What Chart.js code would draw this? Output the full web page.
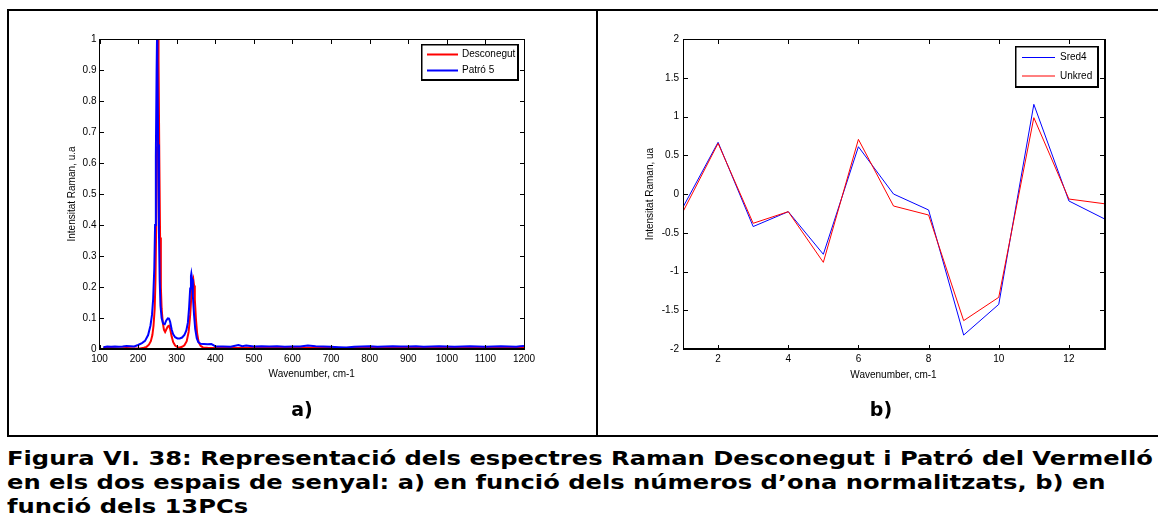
<!DOCTYPE html>
<html>
<head>
<meta charset="utf-8">
<script src="https://cdn.jsdelivr.net/npm/chart.js@4.4.1/dist/chart.umd.min.js"></script>
<style>
  html, body { margin: 0; padding: 0; background: #fff; }
  body { width: 1158px; height: 519px; position: relative; overflow: hidden; }
  .rule { position: absolute; background: #000; }
  canvas { position: absolute; }
  .tag { position: absolute; font: bold 19px "DejaVu Sans", Verdana, sans-serif; line-height: 1;
         transform: translate(-50%, -50%); color: #000; }
  #caption { position: absolute; left: 7px; top: 446px; font: bold 19px "DejaVu Sans", Verdana, sans-serif;
             line-height: 24px; color: #000; white-space: nowrap; }
  #caption .ln { display: block; transform-origin: 0 0; }
</style>
</head>
<body>
<!-- figure frame -->
<div class="rule" style="left:7px;top:9px;width:1151px;height:2px"></div>
<div class="rule" style="left:7px;top:9px;width:2px;height:428px"></div>
<div class="rule" style="left:596px;top:9px;width:2px;height:428px"></div>
<div class="rule" style="left:7px;top:435px;width:1151px;height:2px"></div>

<canvas id="spectra" width="587" height="424" style="left:9px;top:11px"></canvas>
<canvas id="pcs" width="560" height="424" style="left:598px;top:11px"></canvas>

<div class="tag" style="left:302px;top:409px">a)</div>
<div class="tag" style="left:881px;top:409px">b)</div>

<div id="caption"><span class="ln">Figura VI. 38: Representació dels espectres Raman Desconegut i Patró del Vermelló</span><span class="ln">en els dos espais de senyal: a) en funció dels números d’ona normalitzats, b) en</span><span class="ln">funció dels 13PCs</span></div>

<script>
// ---- Panel a): normalised Raman spectra ----
const desconegutWavenumbers = [
  110, 130, 150, 170, 190, 205, 215, 222, 228, 233, 237, 240, 243, 245, 247, 249, 251, 252, 253, 255,
  257, 259, 261, 264, 267, 270, 273, 277, 280, 283, 287, 291, 296, 302, 308, 314, 320, 326, 331, 335,
  338, 341, 343, 345, 347, 350, 353, 357, 362, 368, 380, 400, 430, 460, 490, 520, 550, 580, 610, 640,
  670, 700, 730, 760, 790, 820, 850, 880, 910, 940, 970, 1000, 1030, 1060, 1090, 1120, 1150, 1175, 1190, 1200
];
const desconegutIntensity = [
  0.003, 0.003, 0.002, 0.003, 0.002, 0.002, 0.004, 0.007, 0.014, 0.025, 0.045, 0.075, 0.13, 0.22, 0.40, 0.65, 0.92, 1.00, 0.93, 0.62,
  0.36, 0.20, 0.13, 0.085, 0.062, 0.055, 0.063, 0.073, 0.075, 0.065, 0.040, 0.022, 0.011, 0.006, 0.005, 0.007, 0.012, 0.025, 0.055, 0.11,
  0.17, 0.215, 0.225, 0.205, 0.16, 0.095, 0.050, 0.022, 0.010, 0.005, 0.004, 0.003, 0.004, 0.003, 0.004, 0.003, 0.004, 0.003, 0.004, 0.004,
  0.003, 0.004, 0.003, 0.004, 0.003, 0.004, 0.005, 0.004, 0.003, 0.004, 0.004, 0.003, 0.004, 0.004, 0.003, 0.004, 0.004, 0.005, 0.006, 0.004
];

const patroWavenumbers = [
  110, 120, 130, 140, 150, 160, 170, 180, 190, 200, 210, 218, 226, 232, 236, 239, 242, 244, 246, 248,
  249, 250, 252, 254, 256, 258, 261, 265, 269, 273, 277, 280, 283, 287, 291, 296, 302, 308, 314, 320,
  325, 329, 332, 335, 337, 338, 340, 342, 345, 348, 352, 356, 362, 370, 380, 390, 396, 400, 420, 440,
  460, 470, 480, 500, 520, 540, 560, 580, 600, 620, 640, 660, 680, 700, 720, 740, 760, 780, 800, 820,
  840, 860, 880, 900, 920, 940, 960, 980, 1000, 1020, 1040, 1060, 1080, 1100, 1120, 1140, 1160, 1180, 1190, 1200
];
const patroIntensity = [
  0.006, 0.008, 0.007, 0.008, 0.007, 0.008, 0.010, 0.009, 0.008, 0.013, 0.019, 0.026, 0.045, 0.075, 0.11, 0.16, 0.26, 0.40, 0.62, 0.90,
  1.00, 0.93, 0.66, 0.38, 0.22, 0.14, 0.10, 0.082, 0.080, 0.092, 0.099, 0.098, 0.088, 0.063, 0.047, 0.038, 0.034, 0.034, 0.037, 0.045,
  0.060, 0.085, 0.13, 0.195, 0.235, 0.243, 0.225, 0.17, 0.11, 0.065, 0.035, 0.022, 0.017, 0.016, 0.015, 0.016, 0.012, 0.008, 0.008, 0.007,
  0.013, 0.009, 0.011, 0.008, 0.009, 0.008, 0.009, 0.007, 0.008, 0.008, 0.011, 0.009, 0.008, 0.007, 0.006, 0.005, 0.007, 0.008, 0.009, 0.007,
  0.008, 0.009, 0.008, 0.008, 0.009, 0.007, 0.008, 0.009, 0.008, 0.007, 0.008, 0.009, 0.008, 0.007, 0.008, 0.009, 0.008, 0.007, 0.009, 0.010
];

const spectraXTicks = [100, 200, 300, 400, 500, 600, 700, 800, 900, 1000, 1100, 1200];
const spectraYTicks = [0, 0.1, 0.2, 0.3, 0.4, 0.5, 0.6, 0.7, 0.8, 0.9, 1];

// ---- Panel b): scores on the 13 principal components ----
const pcIndex = [1, 2, 3, 4, 5, 6, 7, 8, 9, 10, 11, 12, 13];
const sred4  = [-0.17, 0.667, -0.42, -0.228, -0.778, 0.61, 0.0, -0.206, -1.82, -1.424, 1.157, -0.09, -0.318];
const unkred = [-0.228, 0.654, -0.378, -0.228, -0.882, 0.705, -0.155, -0.271, -1.634, -1.333, 0.985, -0.065, -0.125];

const pcsXTicks = [2, 4, 6, 8, 10, 12];
const pcsYTicks = [-2, -1.5, -1, -0.5, 0, 0.5, 1, 1.5, 2];

const AXIS_FONT = '"Liberation Sans", Arial, Helvetica, sans-serif';

function fixedTicks(list) {
  return function (scale) { scale.ticks = list.map(v => ({ value: v })); };
}
function pairs(xs, ys) { return xs.map((x, i) => ({ x: x, y: ys[i] })); }

// Box, inward ticks, axis titles and in-axes legend, drawn the way MATLAB frames its axes
const matlabFrame = {
  id: 'matlabFrame',
  afterDraw(chart, args, opts) {
    const ctx = chart.ctx, a = chart.chartArea;
    const xs = chart.scales.x, ys = chart.scales.y;
    const L = Math.floor(a.left), R = Math.floor(a.right), T = Math.floor(a.top), B = Math.floor(a.bottom);
    ctx.save();
    ctx.fillStyle = '#000';
    ctx.fillRect(L, T, R - L + 1, 1);
    ctx.fillRect(L, T, 1, B - T + 1);
    ctx.fillRect(L, B - 1, R - L + opts.rightWidth, 2);
    ctx.fillRect(R, T, opts.rightWidth, B - T + 1);
    opts.xTicks.forEach(v => {
      const px = Math.round(xs.getPixelForValue(v));
      ctx.fillRect(px, B - 4, 1, 4);
      ctx.fillRect(px, T + 1, 1, 4);
    });
    opts.yTicks.forEach(v => {
      const py = Math.round(ys.getPixelForValue(v));
      ctx.fillRect(L + 1, py, 4, 1);
      ctx.fillRect(R - 4, py, 4, 1);
    });

    ctx.font = '10px ' + AXIS_FONT;
    ctx.textAlign = 'center';
    ctx.textBaseline = 'middle';
    ctx.fillText(opts.xTitle, (a.left + a.right) / 2, a.bottom + opts.xTitleGap);
    ctx.save();
    ctx.translate(opts.yTitleX, (a.top + a.bottom) / 2);
    ctx.rotate(-Math.PI / 2);
    ctx.fillText(opts.yTitle, 0, 0);
    ctx.restore();

    const lg = opts.legend;
    const bx = Math.round(a.right - lg.inset - lg.width), by = Math.round(a.top + lg.top);
    ctx.fillStyle = '#fff';
    ctx.fillRect(bx, by, lg.width, lg.height);
    ctx.fillStyle = '#000';
    ctx.fillRect(bx, by, lg.width, 1.5);
    ctx.fillRect(bx, by, 1.5, lg.height);
    ctx.fillRect(bx, by + lg.height - 2, lg.width, 2);
    ctx.fillRect(bx + lg.width - 2, by, 2, lg.height);
    ctx.textAlign = 'left';
    lg.order.forEach((di, i) => {
      const ds = chart.data.datasets[di];
      const ry = by + lg.rows[i];
      ctx.strokeStyle = ds.borderColor;
      ctx.lineWidth = ds.borderWidth;
      ctx.beginPath();
      ctx.moveTo(bx + lg.lineFrom, ry);
      ctx.lineTo(bx + lg.lineTo, ry);
      ctx.stroke();
      ctx.fillStyle = '#000';
      ctx.fillText(ds.label, bx + lg.textX, ry);
    });
    ctx.restore();
  }
};

function axisScale(min, max, list, fit, pad) {
  return {
    type: 'linear', min: min, max: max,
    afterBuildTicks: fixedTicks(list),
    afterFit: fit,
    grid: { display: false, drawTicks: false },
    border: { display: false },
    ticks: {
      color: '#000', autoSkip: false, maxRotation: 0, padding: pad,
      font: { family: AXIS_FONT, size: 10 },
      callback: v => String(v)
    }
  };
}

new Chart(document.getElementById('spectra'), {
  type: 'line',
  data: {
    datasets: [
      { label: 'Desconegut', data: pairs(desconegutWavenumbers, desconegutIntensity),
        borderColor: '#ff0000', borderWidth: 2, order: 1 },
      { label: 'Patró 5', data: pairs(patroWavenumbers, patroIntensity),
        borderColor: '#0000ff', borderWidth: 2, order: 0 }
    ]
  },
  options: {
    responsive: false, animation: false, events: [],
    parsing: false,
    elements: { point: { radius: 0 }, line: { tension: 0, fill: false } },
    layout: { padding: { top: 28, right: 72, left: 0, bottom: 0 } },
    scales: {
      x: axisScale(100, 1200, spectraXTicks, s => { s.height = 86; }, 4),
      y: axisScale(0, 1, spectraYTicks, s => { s.width = 90.5; }, 3)
    },
    plugins: {
      legend: { display: false }, tooltip: { enabled: false },
      matlabFrame: {
        xTicks: spectraXTicks, yTicks: spectraYTicks, rightWidth: 1,
        xTitle: 'Wavenumber, cm-1', xTitleGap: 25,
        yTitle: 'Intensitat Raman, u.a', yTitleX: 63,
        legend: { inset: 5, top: 5, width: 98, height: 37, rows: [10.5, 26.5],
                  lineFrom: 6, lineTo: 37, textX: 41, order: [0, 1] }
      }
    }
  },
  plugins: [matlabFrame]
});

new Chart(document.getElementById('pcs'), {
  type: 'line',
  data: {
    datasets: [
      { label: 'Sred4', data: pairs(pcIndex, sred4), borderColor: '#0000ff', borderWidth: 1, order: 1 },
      { label: 'Unkred', data: pairs(pcIndex, unkred), borderColor: '#ff0000', borderWidth: 1, order: 0 }
    ]
  },
  options: {
    responsive: false, animation: false, events: [],
    parsing: false,
    elements: { point: { radius: 0 }, line: { tension: 0, fill: false } },
    layout: { padding: { top: 28, right: 54, left: 0, bottom: 0 } },
    scales: {
      x: axisScale(1, 13, pcsXTicks, s => { s.height = 86; }, 4),
      y: axisScale(-2, 2, pcsYTicks, s => { s.width = 85; }, 4)
    },
    plugins: {
      legend: { display: false }, tooltip: { enabled: false },
      matlabFrame: {
        xTicks: pcsXTicks, yTicks: pcsYTicks, rightWidth: 2,
        xTitle: 'Wavenumber, cm-1', xTitleGap: 26,
        yTitle: 'Intensitat Raman, ua', yTitleX: 52,
        legend: { inset: 5, top: 7, width: 84, height: 42, rows: [11.5, 30],
                  lineFrom: 7, lineTo: 40, textX: 45, order: [0, 1] }
      }
    }
  },
  plugins: [matlabFrame]
});

// Caption lines share one horizontal scale so the first line spans the figure width
(function fitCaption() {
  const lines = document.querySelectorAll('#caption .ln');
  const first = lines[0].getBoundingClientRect().width;
  const k = 1146 / first;
  lines.forEach(el => { el.style.transform = 'scaleX(' + k.toFixed(4) + ')'; });
})();
</script>
</body>
</html>
